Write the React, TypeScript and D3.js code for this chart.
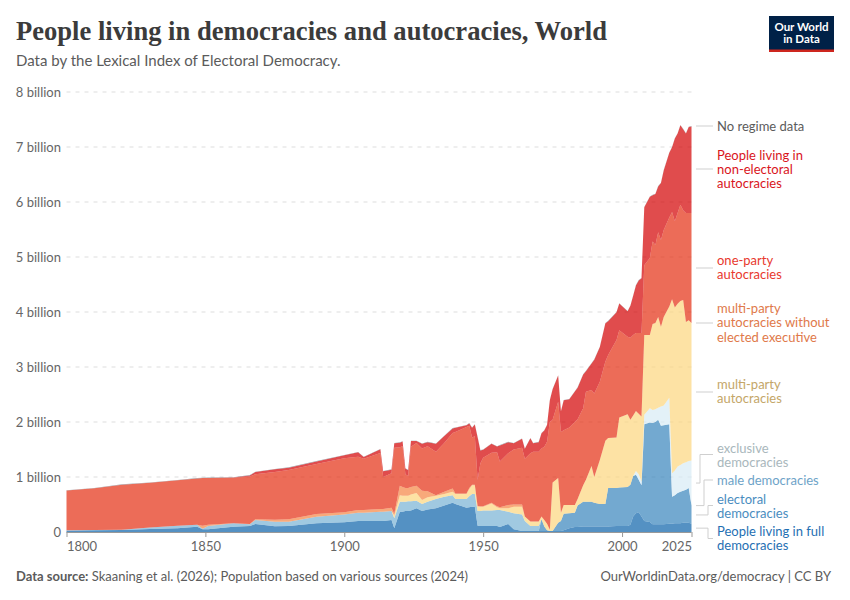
import * as d3 from 'd3';
import React, { useEffect, useRef } from 'react';

// Years, with every abrupt change kept
const years = [
  1800, 1810, 1820, 1830, 1840, 1847, 1849, 1851, 1860, 1866,
  1868, 1875, 1880, 1890, 1900, 1905, 1907, 1913, 1914, 1917,
  1918, 1920, 1921, 1922, 1923, 1924, 1926, 1928, 1930, 1933,
  1936, 1939, 1940, 1944, 1945, 1946, 1947, 1948, 1949,
  1950, 1953, 1955, 1956, 1959, 1961, 1964, 1965, 1967, 1968,
  1970, 1971, 1972, 1973, 1974, 1975, 1977, 1978, 1979, 1981,
  1983, 1984, 1986, 1987, 1989, 1990, 1992, 1994, 1995, 1998,
  1999, 2002, 2003, 2004, 2005, 2006, 2007, 2008, 2010, 2011,
  2012, 2013, 2014, 2015, 2017, 2018, 2019, 2020, 2021, 2022,
  2023, 2024, 2025,
];

// Upper edge of each stacked band, in billions
const fullTop = [
  .025, .03, .035, .055, .067, .096, .05, .05, .096, .109,
  .145, .105, .109, .158, .176, .2, .2, .2, .2, .218,
  .07, .37, .37, .38, .38, .39, .43, .38, .41, .43,
  .48, .53, .51, .44, .45, .46, .46, .115, .11,
  .11, .11, .11, .09, .145, .05, .02, .02, .02, .02,
  .02, .02, .02, .02, .02, .02, .02, .02, .03, .07,
  .09, .09, .1, .1, .1, .1, .1, .1, .1, .11,
  .11, .11, .13, .28, .34, .36, .28, .2, .18, .14,
  .14, .14, .14, .14, .15, .15, .16, .16, .16, .17,
  .17, .17, .15,
];
const electoralTop = [
  .025, .03, .035, .055, .067, .096, .05, .05, .096, .109,
  .145, .105, .109, .158, .176, .2, .2, .2, .2, .218,
  .07, .37, .37, .38, .38, .39, .43, .38, .41, .43,
  .48, .53, .51, .44, .45, .46, .46, .115, .11,
  .11, .11, .11, .09, .145, .05, .02, .02, .02, .02,
  .02, .23, .1, .03, .02, .02, .17, .2, .33, .34,
  .35, .48, .55, .55, .55, .53, .51, .51, .8, .8,
  .81, .82, .86, 1.02, 1.04, .95, .85, 1.96, 1.99, 1.98,
  2.0, 2.04, 1.93, 1.94, 1.96, .64, .67, .71, .73, .75,
  .77, .8, .48,
];
const maleTop = [
  .03, .035, .04, .08, .115, .133, .06, .11, .157, .14,
  .218, .187, .187, .278, .32, .35, .35, .37, .37, .38,
  .25, .55, .55, .55, .56, .56, .57, .51, .55, .6,
  .64, .67, .6, .6, .65, .69, .69, .38, .38,
  .39, .39, .4, .4, .37, .34, .32, .2, .11, .11,
  .11, .23, .1, .03, .02, .02, .17, .2, .33, .34,
  .35, .48, .55, .55, .55, .53, .51, .51, .8, .8,
  .81, .82, .86, 1.02, 1.04, .95, .85, 1.96, 1.99, 1.98,
  2.0, 2.04, 1.93, 1.94, 1.96, .64, .67, .71, .73, .75,
  .77, .8, .48,
];
const exclusiveTop = [
  .03, .035, .04, .08, .115, .133, .06, .11, .157, .14,
  .218, .187, .187, .278, .32, .35, .35, .37, .37, .38,
  .25, .55, .55, .55, .56, .56, .57, .51, .55, .6,
  .64, .67, .6, .6, .65, .69, .69, .38, .38,
  .39, .39, .4, .4, .37, .34, .32, .2, .11, .11,
  .11, .23, .1, .03, .02, .02, .17, .2, .33, .34,
  .35, .48, .55, .55, .55, .53, .51, .51, .8, .8,
  .81, .82, .86, 1.02, 1.11, 1.05, .92, 2.13, 2.25, 2.22,
  2.23, 2.26, 2.28, 2.3, 2.44, 1.07, 1.12, 1.19, 1.22, 1.25,
  1.27, 1.29, 1.3,
];
const multiPartyTop = [
  .03, .035, .04, .08, .115, .133, .06, .11, .157, .14,
  .218, .187, .187, .278, .32, .35, .35, .37, .37, .38,
  .3, .67, .66, .66, .66, .68, .71, .58, .63, .66,
  .69, .73, .69, .69, .78, .85, .85, .47, .46,
  .46, .52, .45, .43, .43, .46, .46, .28, .19, .19,
  .19, .28, .22, .15, .04, .9, .98, .35, .49, .49,
  .49, .6, .85, .95, 1.2, 1.0, 1.31, 1.66, 1.71, 1.72,
  2.08, 2.14, 2.04, 2.12, 2.2, 2.15, 2.1, 3.58, 3.58, 3.78,
  3.8, 3.91, 3.73, 3.91, 4.1, 4.23, 4.08, 4.15, 4.2, 4.22,
  3.82, 3.85, 3.8,
];
const noExecutiveTop = [
  .03, .035, .04, .08, .115, .133, .115, .13, .16, .145,
  .23, .225, .23, .327, .357, .4, .4, .42, .42, .44,
  .33, .84, .82, .8, .8, .82, .84, .75, .74, .67,
  .73, .79, .7, .7, .8, .86, .86, .47, .47,
  .47, .53, .47, .45, .49, .5, .5, .28, .19, .19,
  .19, .28, .22, .15, .04, .9, .98, .35, .49, .49,
  .49, .6, .85, .95, 1.2, 1.0, 1.31, 1.66, 1.71, 1.72,
  2.08, 2.14, 2.04, 2.12, 2.2, 2.15, 2.1, 3.58, 3.58, 3.78,
  3.8, 3.91, 3.73, 3.91, 4.1, 4.23, 4.08, 4.15, 4.2, 4.22,
  3.82, 3.85, 3.8,
];
const onePartyTop = [
  .755, .795, .86, .895, .94, .975, .98, .98, .985, 1.01,
  1.05, 1.09, 1.127, 1.236, 1.34, 1.37, 1.33, 1.436, 1.0, 1.07,
  1.53, 1.54, 1.56, 1.05, 1.02, 1.55, 1.62, 1.52, 1.56, 1.46,
  1.62, 1.8, 1.82, 1.91, 1.93, 1.72, 1.74, .95, 1.25,
  1.35, 1.44, 1.45, 1.28, 1.43, 1.5, 1.53, 1.33, 1.43, 1.46,
  1.46, 1.52, 1.55, 1.64, 2.0, 2.04, 2.37, 1.82, 1.85, 1.9,
  2.0, 2.05, 2.25, 2.55, 2.58, 2.52, 2.73, 3.1, 3.22, 3.49,
  3.67, 3.55, 3.53, 3.58, 3.62, 3.62, 3.62, 4.85, 4.98, 5.28,
  5.22, 5.45, 5.31, 5.49, 5.72, 5.82, 5.65, 5.8, 5.95, 5.85,
  5.8, 5.8, 5.8,
];
const totalTop = [
  .76, .8, .865, .9, .945, .98, .985, .99, .995, 1.035,
  1.095, 1.145, 1.176, 1.29, 1.4, 1.455, 1.37, 1.51, 1.11, 1.14,
  1.62, 1.63, 1.65, 1.16, 1.13, 1.66, 1.66, 1.61, 1.64, 1.61,
  1.75, 1.89, 1.9, 1.945, 1.98, 1.9, 1.96, 1.73, 1.49,
  1.5, 1.61, 1.56, 1.58, 1.64, 1.62, 1.7, 1.52, 1.71, 1.62,
  1.64, 1.8, 1.85, 1.95, 2.4, 2.6, 2.85, 2.2, 2.4, 2.42,
  2.56, 2.63, 2.87, 2.93, 3.07, 3.14, 3.37, 3.8, 3.84, 4.0,
  4.16, 4.02, 4.12, 4.3, 4.49, 4.58, 4.62, 5.91, 6.1, 6.13,
  6.15, 6.29, 6.35, 6.58, 6.9, 7.0, 7.16, 7.25, 7.4, 7.33,
  7.25, 7.37, 7.38,
];
// The top band is a hairline all the way along
const noRegimeWidth = 0.006;

const tops = [fullTop, electoralTop, maleTop, exclusiveTop, multiPartyTop, noExecutiveTop, onePartyTop];
const seriesKeys = ['full', 'electoral', 'male', 'exclusive', 'multiParty', 'noExecutive', 'oneParty', 'nonElectoral', 'noRegime'];
const seriesColors = ['#0c62a9', '#3884bc', '#77b2d4', '#d7ebf5', '#fcd67e', '#f58441', '#e42e11', '#d30001', '#6e7581'];

const yTicks = [0, 1, 2, 3, 4, 5, 6, 7, 8];
const xTicks = [1800, 1850, 1900, 1950, 2000, 2025];

const labels = [
  { lines: ['No regime data'], y: 131, color: '#5b5b5b' },
  { lines: ['People living in', 'non-electoral', 'autocracies'], y: 159.5, color: '#d9151c' },
  { lines: ['one-party', 'autocracies'], y: 265, color: '#e8392e' },
  { lines: ['multi-party', 'autocracies without', 'elected executive'], y: 313, color: '#e0794a' },
  { lines: ['multi-party', 'autocracies'], y: 389, color: '#c4a668' },
  { lines: ['exclusive', 'democracies'], y: 453, color: '#a9b7bc' },
  { lines: ['male democracies'], y: 485, color: '#6ea3c8' },
  { lines: ['electoral', 'democracies'], y: 503.5, color: '#4a8dc0' },
  { lines: ['People living in full', 'democracies'], y: 536, color: '#1f70b3' },
];

// Connector values are the band midpoints at 2025, with an optional elbow
const connectors = [
  { value: 7.38, elbow: null, endY: 126 },
  { value: 6.59, elbow: null, endY: 169 },
  { value: 4.8, elbow: null, endY: 268 },
  { value: 3.8, elbow: null, endY: 323 },
  { value: 2.55, elbow: null, endY: 392 },
  { value: 0.89, elbow: 700, endY: 454.5 },
  { value: 0.48, elbow: 704, endY: 480 },
  { value: 0.31, elbow: 708, endY: 505.5 },
  { value: 0.07, elbow: 708, endY: 538.5 },
];

export default function App() {
  const svgRef = useRef<SVGSVGElement>(null);

  useEffect(() => {
    if (!svgRef.current) return;
    const svg = d3.select(svgRef.current);
    svg.selectAll('*').remove();

    const x = d3.scaleLinear().domain([1800, 2025]).range([66.5, 691.5]);
    const y = d3.scaleLinear().domain([0, 8]).range([532, 92]);
    const sans = 'Lato, sans-serif';

    // Turn the band edges into band widths for d3.stack
    const rows = years.map((year, i) => {
      const row: any = { year };
      let prev = 0;
      tops.forEach((t, k) => {
        row[seriesKeys[k]] = Math.max(0, t[i] - prev);
        prev = Math.max(prev, t[i]);
      });
      row.nonElectoral = Math.max(0, totalTop[i] - noRegimeWidth - prev);
      row.noRegime = noRegimeWidth;
      return row;
    });
    const stacked = d3.stack<any>().keys(seriesKeys)(rows);

    // Gridlines
    svg.append('g')
      .selectAll('line')
      .data(yTicks.filter(d => d > 0))
      .join('line')
      .attr('x1', 66.5)
      .attr('x2', 691.5)
      .attr('y1', d => y(d))
      .attr('y2', d => y(d))
      .attr('stroke', '#dddddd')
      .attr('stroke-dasharray', '4,5');

    // Areas
    const area = d3.area<any>()
      .x(d => x(d.data.year))
      .y0(d => y(d[0]))
      .y1(d => y(d[1]));

    svg.append('g')
      .selectAll('path')
      .data(stacked)
      .join('path')
      .attr('d', area)
      .attr('fill', (_, i) => seriesColors[i])
      .attr('fill-opacity', 0.7)
      .attr('stroke', 'none');

    // Y axis
    const yAxis = d3.axisLeft(y)
      .tickValues(yTicks)
      .tickSize(0)
      .tickPadding(5.5)
      .tickFormat(d => (d === 0 ? '0' : `${d} billion`));
    const yG = svg.append('g').attr('transform', 'translate(66.5,0)').call(yAxis as any);
    yG.select('.domain').remove();
    yG.selectAll('text').attr('font-family', sans).attr('font-size', 13).attr('fill', '#666666');

    // X axis
    const xAxis = d3.axisBottom(x)
      .tickValues(xTicks)
      .tickSize(5)
      .tickPadding(5)
      .tickFormat(d => String(d));
    const xG = svg.append('g').attr('transform', 'translate(0,532)').call(xAxis as any);
    xG.select('.domain').attr('stroke', '#999999').attr('d', 'M66.5,0.5H691.5');
    xG.selectAll('line').attr('stroke', '#999999');
    xG.selectAll('text')
      .attr('font-family', sans)
      .attr('font-size', 13)
      .attr('fill', '#666666')
      .attr('text-anchor', (d: any) => (d === 1800 ? 'start' : d === 2025 ? 'end' : 'middle'));

    // Connector lines to the labels
    svg.append('g')
      .selectAll('path')
      .data(connectors)
      .join('path')
      .attr('d', d => {
        const startY = y(d.value);
        if (d.elbow === null) return `M696,${d.endY}H713`;
        return `M696,${startY}H${d.elbow}V${d.endY}H713`;
      })
      .attr('fill', 'none')
      .attr('stroke', '#cfcfcf')
      .attr('stroke-width', 1);

    // Series labels, one text element per label so wrapped lines stay together
    const labelG = svg.append('g').attr('font-family', sans).attr('font-size', 13);
    labels.forEach(l => {
      const text = labelG.append('text').attr('y', l.y).attr('fill', l.color);
      l.lines.forEach((line, i) => {
        text.append('tspan')
          .attr('x', 717)
          .attr('dy', i === 0 ? 0 : 14.3)
          .text(line);
      });
    });

    // Title and subtitle
    svg.append('text')
      .attr('x', 16)
      .attr('y', 40)
      .attr('font-family', '"Liberation Serif", serif')
      .attr('font-weight', 700)
      .attr('font-size', 28)
      .attr('fill', '#3b3b3b')
      .attr('textLength', 591)
      .attr('lengthAdjust', 'spacingAndGlyphs')
      .text('People living in democracies and autocracies, World');

    svg.append('text')
      .attr('x', 16)
      .attr('y', 66)
      .attr('font-family', sans)
      .attr('font-size', 15)
      .attr('fill', '#5b5b5b')
      .text('Data by the Lexical Index of Electoral Democracy.');

    // Footer
    const source = svg.append('text')
      .attr('x', 16)
      .attr('y', 581)
      .attr('font-family', sans)
      .attr('font-size', 13)
      .attr('fill', '#5b5b5b');
    source.append('tspan').attr('font-weight', 700).text('Data source:');
    source.append('tspan').text(' Skaaning et al. (2026); Population based on various sources (2024)');

    svg.append('text')
      .attr('x', 831)
      .attr('y', 581)
      .attr('text-anchor', 'end')
      .attr('font-family', sans)
      .attr('font-size', 13)
      .attr('fill', '#5b5b5b')
      .text('OurWorldinData.org/democracy | CC BY');

    // Logo
    const logo = svg.append('g');
    logo.append('rect').attr('x', 769).attr('y', 16).attr('width', 65).attr('height', 36).attr('fill', '#002147');
    logo.append('rect').attr('x', 769).attr('y', 49.5).attr('width', 65).attr('height', 2.5).attr('fill', '#ce261e');
    ['Our World', 'in Data'].forEach((t, i) => {
      logo.append('text')
        .attr('x', 801.5)
        .attr('y', 31 + i * 12)
        .attr('text-anchor', 'middle')
        .attr('font-family', sans)
        .attr('font-weight', 700)
        .attr('font-size', 11.5)
        .attr('fill', '#ffffff')
        .text(t);
    });
  }, []);

  return (
    <svg
      ref={svgRef}
      width={850}
      height={600}
      style={{ position: 'absolute', left: 0, top: 0, background: '#ffffff' }}
    />
  );
}
